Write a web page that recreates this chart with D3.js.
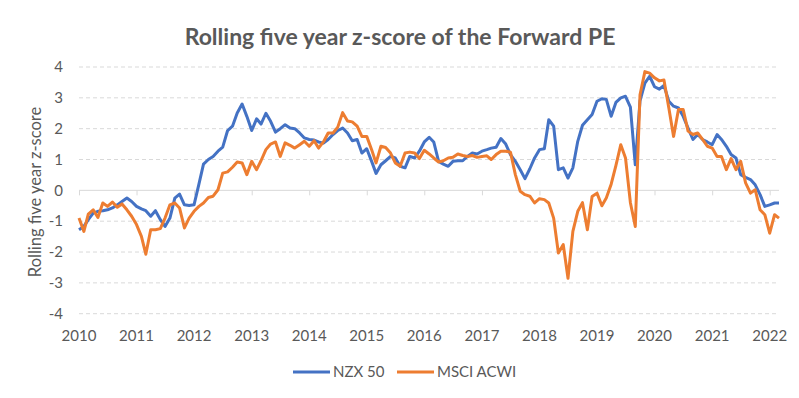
<!DOCTYPE html>
<html>
<head>
<meta charset="utf-8">
<script src="https://cdn.jsdelivr.net/npm/d3@7"></script>
<style>
  body { margin: 0; background: #fff; }
  text { font-family: Lato, "Open Sans", sans-serif; fill: #595959; }
</style>
</head>
<body>
<div id="chart"></div>
<script>
// Step 1: Data (monthly, Jan 2010 onwards)
// ==============================================================================
var startYear = 2010;
var seriesNames = ["NZX 50", "MSCI ACWI"];
var seriesColors = ["#4472C4", "#ED7D31"];
var yTicks = [-4, -3, -2, -1, 0, 1, 2, 3, 4];

var nzx50 = [
  -1.28, -1.17, -0.95, -0.74, -0.68, -0.66, -0.63, -0.57, -0.47, -0.36, -0.25, -0.36,
  -0.52, -0.60, -0.66, -0.84, -0.66, -0.95, -1.17, -0.90, -0.25, -0.12, -0.47, -0.49,
  -0.47, 0.20, 0.85, 1.00, 1.10, 1.27, 1.40, 1.94, 2.08, 2.51, 2.80, 2.40,
  1.94, 2.32, 2.15, 2.50, 2.24, 1.89, 2.00, 2.13, 2.02, 2.00, 1.86, 1.70,
  1.65, 1.63, 1.57, 1.53, 1.65, 1.81, 1.94, 2.02, 1.86, 1.61, 1.65, 1.21,
  1.35, 0.94, 0.55, 0.83, 0.96, 1.10, 1.05, 0.78, 0.73, 1.10, 1.05, 1.27,
  1.57, 1.72, 1.57, 0.94, 0.85, 0.78, 0.94, 0.96, 0.96, 1.10, 1.21, 1.18,
  1.27, 1.32, 1.37, 1.40, 1.68, 1.50, 1.16, 0.94, 0.67, 0.38, 0.70, 1.05,
  1.32, 1.35, 2.29, 2.08, 0.67, 0.73, 0.40, 0.73, 1.59, 2.11, 2.29, 2.46,
  2.89, 2.97, 2.95, 2.40, 2.85, 3.00, 3.05, 2.70, 0.83, 2.90, 3.48, 3.70,
  3.36, 3.28, 3.40, 2.89, 2.73, 2.67, 2.40, 2.02, 1.65, 1.81, 1.65, 1.57,
  1.48, 1.81, 1.65, 1.43, 1.16, 1.05, 0.51, 0.42, 0.35, 0.18, -0.14, -0.52,
  -0.47, -0.41, -0.41
];

var msciAcwi = [
  -0.90, -1.33, -0.77, -0.63, -0.88, -0.41, -0.52, -0.38, -0.55, -0.44, -0.63, -0.84,
  -1.11, -1.49, -2.07, -1.28, -1.28, -1.24, -0.90, -0.47, -0.41, -0.57, -1.22, -0.90,
  -0.68, -0.52, -0.41, -0.23, -0.19, 0.02, 0.56, 0.60, 0.75, 0.92, 0.89, 0.51,
  0.94, 0.67, 0.96, 1.32, 1.50, 1.57, 1.10, 1.54, 1.46, 1.37, 1.48, 1.59,
  1.43, 1.61, 1.37, 1.57, 1.86, 1.86, 2.05, 2.52, 2.25, 2.22, 2.08, 1.75,
  1.75, 1.32, 0.89, 1.43, 1.39, 1.21, 0.89, 0.78, 1.21, 1.24, 1.21, 1.03,
  1.30, 1.18, 1.05, 0.92, 0.96, 1.05, 1.07, 1.18, 1.13, 1.10, 1.13, 1.07,
  1.10, 1.12, 1.00, 1.16, 1.27, 1.27, 1.24, 0.51, -0.03, -0.14, -0.19, -0.41,
  -0.27, -0.30, -0.41, -0.90, -2.03, -1.76, -2.85, -1.33, -0.68, -0.40, -1.28, -0.20,
  -0.09, -0.50, -0.25, 0.20, 0.80, 1.48, 1.05, -0.40, -1.17, 3.10, 3.85, 3.80,
  3.65, 3.55, 3.58, 2.67, 1.75, 2.62, 2.62, 1.92, 1.81, 1.86, 1.65, 1.43,
  1.37, 1.10, 1.10, 0.67, 1.03, 0.67, 0.94, 0.24, -0.09, 0.02, -0.63, -0.79,
  -1.39, -0.79, -0.90
];

// Step 2: Set up chart canvas
// ==============================================================================
var svgWidth = 799;
var svgHeight = 398;

var margin = { top: 67, right: 20, bottom: 84, left: 79 };

var svg = d3.select("#chart")
  .append("svg")
  .attr("width", svgWidth)
  .attr("height", svgHeight);

// Step 3: Scales
// ==============================================================================
var months = nzx50.map(function(d, i) { return new Date(startYear, i, 1); });

var xScale = d3.scaleTime()
  .domain([months[0], months[months.length - 1]])
  .range([margin.left, 779]);

var yScale = d3.scaleLinear()
  .domain([-4, 4])
  .range([svgHeight - margin.bottom - 0.3, margin.top]);

// Step 4: Gridlines and y labels
// ==============================================================================
svg.append("g")
  .selectAll("line")
  .data(yTicks.filter(d => d !== 0))
  .enter()
  .append("line")
  .attr("x1", margin.left)
  .attr("x2", 779)
  .attr("y1", d => yScale(d))
  .attr("y2", d => yScale(d))
  .attr("stroke", "#d9d9d9")
  .attr("stroke-width", 1)
  .attr("stroke-dasharray", "4,3");

svg.append("g")
  .selectAll("text")
  .data(yTicks)
  .enter()
  .append("text")
  .attr("x", 63)
  .attr("y", d => yScale(d))
  .attr("dy", "0.35em")
  .attr("text-anchor", "end")
  .style("font-size", "15px")
  .text(d => d);

// Step 5: Zero axis with year ticks, year labels at the bottom
// ==============================================================================
var xAxis = d3.axisBottom(xScale)
  .ticks(d3.timeYear.every(1))
  .tickSize(5)
  .tickFormat("");

var axisG = svg.append("g")
  .attr("transform", `translate(0, ${yScale(0)})`)
  .call(xAxis);
axisG.select(".domain").attr("stroke", "#d9d9d9").attr("d", `M${margin.left},0H779`);
axisG.selectAll(".tick line").attr("stroke", "#d9d9d9");

svg.append("g")
  .selectAll("text")
  .data(xScale.ticks(d3.timeYear.every(1)))
  .enter()
  .append("text")
  .attr("x", d => xScale(d))
  .attr("y", 341)
  .attr("text-anchor", "middle")
  .style("font-size", "15px")
  .text(d => d3.timeFormat("%Y")(d));

// Step 6: Lines
// ==============================================================================
var line = d3.line()
  .x((d, i) => xScale(months[i]))
  .y(d => yScale(d));

[nzx50, msciAcwi].forEach(function(series, k) {
  svg.append("path")
    .datum(series)
    .attr("fill", "none")
    .attr("stroke", seriesColors[k])
    .attr("stroke-width", 3)
    .attr("stroke-linejoin", "round")
    .attr("d", line);
});

// Step 7: Title, axis label, legend
// ==============================================================================
svg.append("text")
  .attr("x", 400)
  .attr("y", 45)
  .attr("text-anchor", "middle")
  .style("font-size", "23px")
  .style("font-weight", "bold")
  .text("Rolling five year z-score of the Forward PE");

svg.append("text")
  .attr("transform", "rotate(-90)")
  .attr("x", -192)
  .attr("y", 41)
  .attr("text-anchor", "middle")
  .style("font-size", "16.5px")
  .text("Rolling five year z-score");

var legendX = [293, 397];
var legend = svg.append("g");
seriesNames.forEach(function(name, k) {
  legend.append("line")
    .attr("x1", legendX[k])
    .attr("x2", legendX[k] + 37)
    .attr("y1", 372)
    .attr("y2", 372)
    .attr("stroke", seriesColors[k])
    .attr("stroke-width", 3);
  legend.append("text")
    .attr("x", legendX[k] + 40)
    .attr("y", 372)
    .attr("dy", "0.35em")
    .style("font-size", "15px")
    .text(name);
});
</script>
</body>
</html>
